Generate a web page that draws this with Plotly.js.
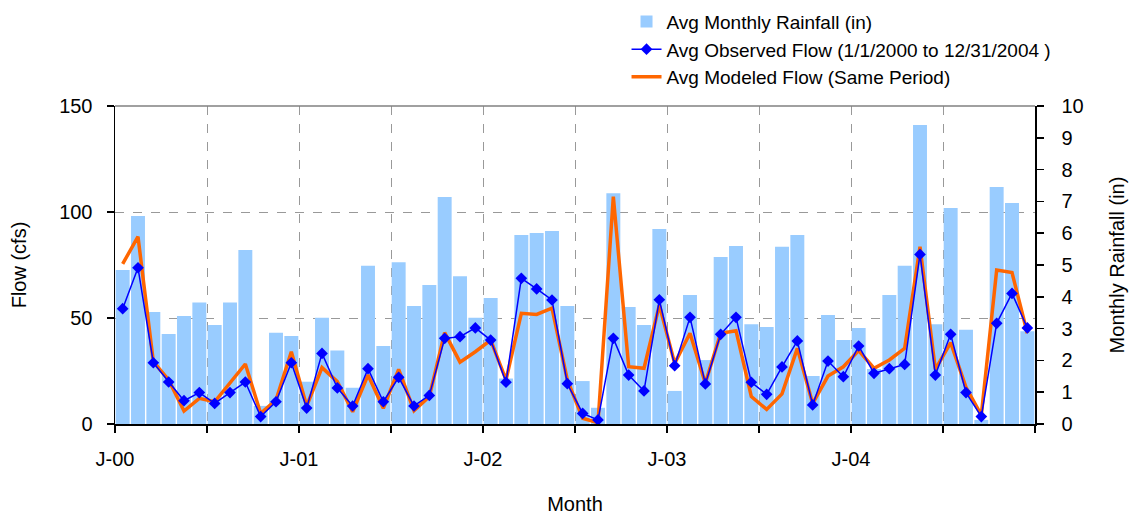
<!DOCTYPE html>
<html>
<head>
<meta charset="utf-8">
<script src="https://cdn.plot.ly/plotly-3.0.1.min.js"></script>
<style>
html,body{margin:0;padding:0;background:#fff;}
#chart{width:1130px;height:515px;}
</style>
</head>
<body>
<div id="chart"></div>
<script>
// Months Jan 2000 .. Dec 2004
const months = [
 "2000-01","2000-02","2000-03","2000-04","2000-05","2000-06","2000-07","2000-08","2000-09","2000-10","2000-11","2000-12",
 "2001-01","2001-02","2001-03","2001-04","2001-05","2001-06","2001-07","2001-08","2001-09","2001-10","2001-11","2001-12",
 "2002-01","2002-02","2002-03","2002-04","2002-05","2002-06","2002-07","2002-08","2002-09","2002-10","2002-11","2002-12",
 "2003-01","2003-02","2003-03","2003-04","2003-05","2003-06","2003-07","2003-08","2003-09","2003-10","2003-11","2003-12",
 "2004-01","2004-02","2004-03","2004-04","2004-05","2004-06","2004-07","2004-08","2004-09","2004-10","2004-11","2004-12"
];
const yearLabels = ["J-00","J-01","J-02","J-03","J-04"];

// Avg Monthly Rainfall (in)
const rainfall = [
 4.84,6.54,3.52,2.83,3.40,3.82,3.11,3.82,5.47,0.57,2.87,2.77,
 1.33,3.34,2.31,1.14,4.98,2.45,5.09,3.71,4.37,7.14,4.65,3.34,
 3.96,1.43,5.94,6.01,6.07,3.71,1.35,0.51,7.26,3.68,3.11,6.13,
 1.04,4.06,2.01,5.25,5.60,3.14,3.05,5.57,5.94,1.51,3.43,2.64,
 3.02,1.73,4.06,4.98,9.40,3.14,6.79,2.96,0.13,7.45,6.95,2.92
];
// Avg Observed Flow (cfs)
const observed = [
 54.4,73.7,28.9,19.8,11.0,14.8,9.7,14.8,19.8,3.5,10.5,28.9,
 7.5,33.3,17.0,8.5,26.1,10.5,22.0,8.5,13.5,40.4,41.2,45.3,
 39.6,19.7,68.7,63.7,58.5,19.0,5.0,1.9,40.4,23.1,15.6,58.6,
 27.5,50.3,18.9,42.3,50.3,19.7,14.0,26.9,39.2,9.0,29.7,22.3,
 36.8,23.9,26.1,28.1,80.0,23.1,42.3,14.8,3.5,47.5,61.6,45.3
];
// Avg Modeled Flow (cfs)
const modeled = [
 75.5,88.4,29.4,20.8,6.1,12.1,10.5,19.2,28.3,5.0,11.3,34.1,
 8.5,26.6,20.0,5.8,23.1,7.4,25.8,6.3,12.9,43.1,29.2,34.1,
 39.6,20.8,52.2,51.7,54.6,20.8,2.7,0.6,107.2,27.0,26.3,56.1,
 28.6,42.8,19.2,42.8,44.0,12.9,6.9,14.2,35.7,9.7,22.6,27.0,
 34.6,26.3,30.2,35.7,83.6,25.8,38.4,17.3,4.2,72.6,71.4,42.8
];

const xi = months.map((m, i) => i);
// tick positions at half-year boundaries
const tickVals = [], tickText = [];
for (let k = 0; k <= months.length / 6; k++) {
  tickVals.push(k * 6 - 0.5);
  tickText.push(k % 2 === 0 && yearLabels[k / 2] ? yearLabels[k / 2] : "");
}

const FONT = "Liberation Sans, Arial, sans-serif";

const traces = [
  {
    type: "bar", x: xi, y: rainfall, yaxis: "y", name: "Avg Monthly Rainfall (in)",
    marker: {color: "#99CCFF", line: {width: 0}}, legendrank: 1, legendgroup: "a"
  },
  {
    type: "scatter", mode: "lines", x: xi, y: modeled, yaxis: "y2",
    name: "Avg Modeled Flow (Same Period)",
    line: {color: "#FF6600", width: 3.5}, legendrank: 3, legendgroup: "c"
  },
  {
    type: "scatter", mode: "lines+markers", x: xi, y: observed, yaxis: "y2",
    name: "Avg Observed Flow (1/1/2000 to 12/31/2004 )",
    line: {color: "#0000FF", width: 1.5},
    marker: {symbol: "diamond", size: 9, color: "#0000FF"}, legendrank: 2, legendgroup: "b"
  }
];

const layout = {
  width: 1130, height: 515,
  margin: {l: 115, r: 95, t: 106, b: 91, pad: 0},
  paper_bgcolor: "#fff", plot_bgcolor: "#fff",
  font: {family: FONT, size: 20, color: "#000"},
  showlegend: true,
  bargap: 0.09,
  legend: {
    xref: "paper", x: 0.556, xanchor: "left",
    yref: "container", y: 0.995, yanchor: "top",
    font: {family: FONT, size: 19, color: "#000"},
    bgcolor: "rgba(0,0,0,0)", tracegroupgap: 4, traceorder: "normal"
  },
  xaxis: {
    range: [-0.5, months.length - 0.5],
    tickmode: "array", tickvals: tickVals, ticktext: tickText,
    ticks: "outside", ticklen: 7, tickwidth: 1.5, tickcolor: "#000",
    showline: true, linecolor: "#000", linewidth: 1.5,
    showgrid: true, gridcolor: "#999", griddash: "dash", gridwidth: 1,
    zeroline: false, ticklabelstandoff: 9,
    title: {text: "Month", font: {family: FONT, size: 20}, standoff: 31},
    fixedrange: true
  },
  yaxis: {
    side: "right", range: [0, 10], dtick: 1, tick0: 0,
    ticks: "outside", ticklen: 7, tickwidth: 1.5, tickcolor: "#000",
    showline: true, linecolor: "#000", linewidth: 1.5,
    showgrid: false, zeroline: false, ticklabelstandoff: 14,
    title: {text: "Monthly Rainfall (in)", font: {family: FONT, size: 20}, standoff: 27}
  },
  yaxis2: {
    side: "left", overlaying: "y", range: [0, 150], dtick: 50, tick0: 0,
    ticks: "outside", ticklen: 7, tickwidth: 1.5, tickcolor: "#000",
    showline: true, linecolor: "#000", linewidth: 1.5,
    showgrid: true, gridcolor: "#999", griddash: "dash", gridwidth: 1,
    zeroline: false, ticklabelstandoff: 10,
    title: {text: "Flow (cfs)", font: {family: FONT, size: 20}, standoff: 27}
  },
  shapes: [
    {type: "line", xref: "paper", yref: "paper", x0: 0, x1: 1, y0: 1, y1: 1,
     line: {color: "#808080", width: 1.5}}
  ]
};

Plotly.newPlot("chart", traces, layout, {displayModeBar: false, staticPlot: true});
</script>
</body>
</html>
